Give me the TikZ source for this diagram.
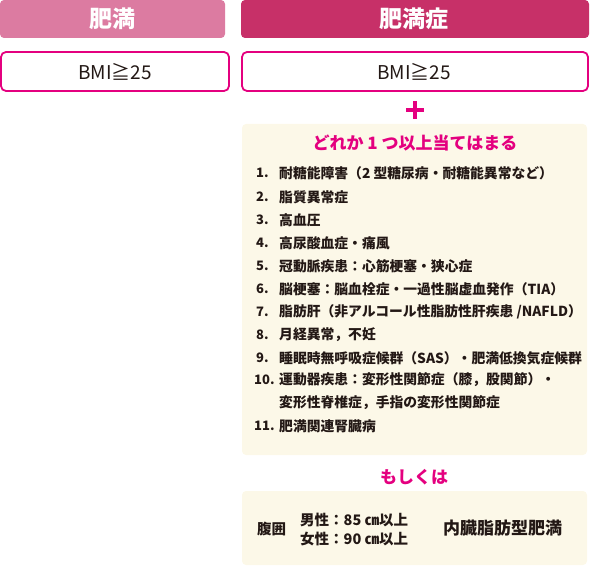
\documentclass[tikz,border=0pt]{standalone}
\usepackage{fontspec}
\setmainfont{Noto Sans CJK JP}
\definecolor{hdrA}{HTML}{DC7BA1}
\definecolor{hdrB}{HTML}{C73068}
\definecolor{mag}{HTML}{E4007F}
\definecolor{beige}{HTML}{FCF8E8}
\definecolor{ink}{HTML}{231815}
\begin{document}
\begin{tikzpicture}[x=1pt,y=-1pt,
  hdr/.style={text=white,font=\bfseries\fontsize{23}{23}\selectfont,inner sep=0pt},
  bmibox/.style={draw=mag,line width=1.8pt,fill=white,rounded corners=5pt},
  bmitext/.style={text=ink,font=\fontsize{19}{19}\selectfont,inner sep=0pt},
  pinkhead/.style={text=mag,font=\bfseries\fontsize{17}{17}\selectfont,inner sep=0pt},
  item/.style={text=ink,font=\bfseries\fontsize{13.8}{13.8}\selectfont,inner sep=0pt,anchor=west},
  num/.style={item,font=\bfseries\fontsize{13}{13}\selectfont},
  panel/.style={fill=beige,rounded corners=4pt}]
\useasboundingbox (0,0) rectangle (590,567);
% headers
\fill[hdrA,rounded corners=4pt] (0,0) rectangle (225,38);
\fill[hdrB,rounded corners=4pt] (241,0) rectangle (589,38);
\node[hdr] (h1) at (112.5,19) {肥満};
\node[hdr] (h2) at (414,19) {肥満症};
% BMI boxes
\draw[bmibox] (1,52) rectangle (229,91);
\draw[bmibox] (242,52) rectangle (588,91);
\node[bmitext] (b1) at (115,72) {BMI≧25};
\node[bmitext] (b2) at (414,72) {BMI≧25};
% plus
\fill[mag] (406,108) rectangle (424,112);
\fill[mag] (413,101) rectangle (417,119);
% panel 1
\fill[panel] (242,124) rectangle (587,455);
\node[pinkhead] (p1) at (415,143) {どれか 1 つ以上当てはまる};
\foreach \n/\x/\y/\t in {
 1./256/173/{耐糖能障害（2 型糖尿病・耐糖能異常など）},
 2./256/197/{脂質異常症},
 3./256/220/{高血圧},
 4./256/243/{高尿酸血症・痛風},
 5./256/266/{冠動脈疾患：心筋梗塞・狭心症},
 6./256/289/{脳梗塞：脳血栓症・一過性脳虚血発作（TIA）},
 7./256/312/{脂肪肝（非アルコール性脂肪性肝疾患 /NAFLD）},
 8./256/335/{月経異常，不妊},
 9./256/358/{睡眠時無呼吸症候群（SAS）・肥満低換気症候群},
 10./254/380/{運動器疾患：変形性関節症（膝，股関節）・},
 11./254/426/{肥満関連腎臓病}}{
  \node[num] (n\n) at (\x,\y) {\n};
  \node[item] (t\n) at (279,\y) {\t};
}
\node[item] (t10b) at (279,403) {変形性脊椎症，手指の変形性関節症};
% or
\node[pinkhead] (p2) at (414,477) {もしくは};
% panel 2
\fill[panel] (242,491) rectangle (587,565);
\node[item,font=\bfseries\fontsize{14.5}{14.5}\selectfont] (w) at (257,529) {腹囲};
\node[item,font=\bfseries\fontsize{14.5}{14.5}\selectfont] (m) at (300,520) {男性：85 ㎝以上};
\node[item,font=\bfseries\fontsize{14.5}{14.5}\selectfont] (f) at (300,539) {女性：90 ㎝以上};
\node[item,font=\bfseries\fontsize{17}{17}\selectfont] (v) at (443,528) {内臓脂肪型肥満};
\end{tikzpicture}
\end{document}
